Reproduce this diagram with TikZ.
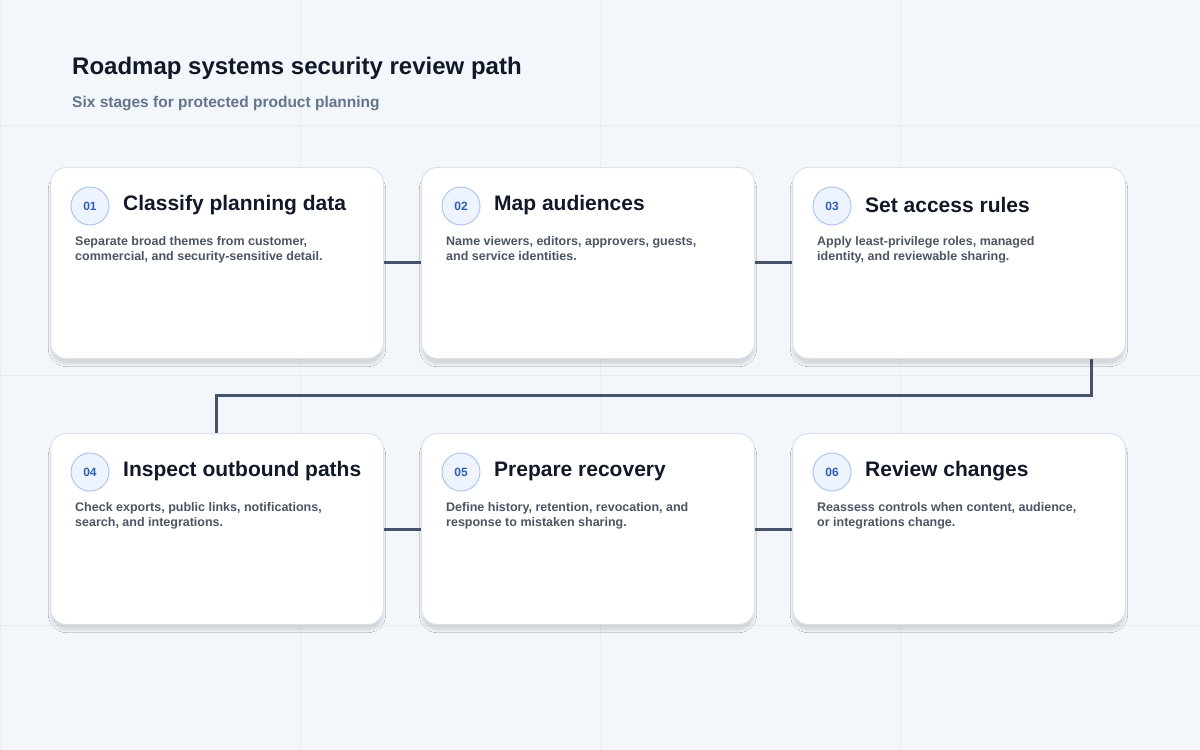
\documentclass[tikz,border=0pt]{standalone}
\usepackage{fontspec}
\setmainfont{Liberation Sans}
\usetikzlibrary{shadows.blur}
\definecolor{bg}{HTML}{F3F6FB}
\definecolor{grid}{HTML}{E8ECF3}
\definecolor{ink}{HTML}{111827}
\definecolor{sub}{HTML}{64748B}
\definecolor{body}{HTML}{4B5563}
\definecolor{line}{HTML}{475467}
\definecolor{cardb}{HTML}{DCE2EA}
\definecolor{badgef}{HTML}{EEF4FF}
\definecolor{badged}{HTML}{AFC6EE}
\definecolor{badget}{HTML}{2F5EB3}
\begin{document}
\begin{tikzpicture}[x=1pt,y=-1pt,
 card/.style={draw=cardb,line width=1pt,fill=white,rounded corners=16pt,minimum width=333pt,minimum height=191pt,anchor=north west,blur shadow={shadow blur steps=8,shadow xshift=0pt,shadow yshift=-6pt,shadow opacity=12}},
 badge/.style={circle,draw=badged,line width=1pt,fill=badgef,minimum size=38pt,inner sep=0pt,font=\fontsize{12}{14}\selectfont\bfseries,text=badget},
 ctitle/.style={anchor=west,font=\fontsize{21}{24}\selectfont\bfseries,text=ink,inner sep=0pt},
 cbody/.style={anchor=north west,align=left,font=\fontsize{12.5}{15}\selectfont\bfseries,text=body,inner sep=0pt},
 conn/.style={draw=line,line width=3pt}]
\useasboundingbox (0,0) rectangle (1200,750);
\fill[bg] (0,0) rectangle (1200,750);
\foreach \x in {0,300,600,900}{\draw[grid,line width=0.6pt] (\x,0)--(\x,750);}
\foreach \y in {125,375,625}{\draw[grid,line width=0.6pt] (0,\y)--(1200,\y);}
\node[anchor=west,inner sep=0pt,font=\fontsize{24}{28}\selectfont\bfseries,text=ink] (t) at (72,68) {Roadmap systems security review path};
\node[anchor=west,inner sep=0pt,font=\fontsize{15.5}{18}\selectfont\bfseries,text=sub] (s) at (72,104) {Six stages for protected product planning};
% connectors behind cards
\coordinate (k1) at (1091,395); \coordinate (k2) at (216,395);
\draw[conn] (370,262)--(430,262);
\draw[conn] (740,262)--(800,262);
\draw[conn] (370,529)--(430,529);
\draw[conn] (740,529)--(800,529);
\draw[conn] (1091,350)--(k1)--(k2)--(216,440);
\foreach \n/\x/\y/\num/\ti/\bo in {
 1/50/167/01/Classify planning data/{Separate broad themes from customer,\\commercial, and security-sensitive detail.},
 2/421/167/02/Map audiences/{Name viewers, editors, approvers, guests,\\and service identities.},
 3/792/167/03/Set access rules/{Apply least-privilege roles, managed\\identity, and reviewable sharing.},
 4/50/433/04/Inspect outbound paths/{Check exports, public links, notifications,\\search, and integrations.},
 5/421/433/05/Prepare recovery/{Define history, retention, revocation, and\\response to mistaken sharing.},
 6/792/433/06/Review changes/{Reassess controls when content, audience,\\or integrations change.}}{
 \node[card] (c\n) at (\x,\y) {};
 \node[badge] (b\n) at (\x+40,\y+39) {\num};
 \node[ctitle] (h\n) at (\x+73,\y+38) {\ti};
 \node[cbody] (d\n) at (\x+25,\y+69) {\bo};
}
\end{tikzpicture}
\end{document}
